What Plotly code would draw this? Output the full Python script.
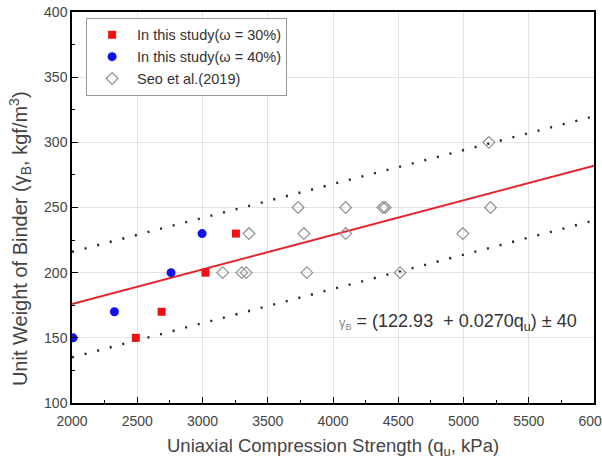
import plotly.graph_objects as go

# Data
red_x = [2489, 2687, 3023, 3256]
red_y = [150, 170, 200, 230]
blue_x = [2008, 2325, 2759, 2997]
blue_y = [150, 170, 200, 230]
seo_x = [5194, 3732, 4097, 4382, 4400, 5207, 3356, 3777, 4097, 4995, 3155, 3301, 3335, 3800, 4514]
seo_y = [300, 250, 250, 250, 250, 250, 230, 230, 230, 230, 200, 200, 200, 200, 200]
fit_x = [2000, 6000]
fit_y = [176, 282]
upper_y = [216, 320]
lower_y = [135, 240]

x_ticks = [2000, 2500, 3000, 3500, 4000, 4500, 5000, 5500, 6000]
y_ticks = [100, 150, 200, 250, 300, 350, 400]

FONT = "Liberation Sans, Arial"

fig = go.Figure()
fig.add_trace(go.Scatter(x=fit_x, y=upper_y, mode="lines", showlegend=False,
                         line=dict(color="#222", width=2.4, dash="2px,11px")))
fig.add_trace(go.Scatter(x=fit_x, y=lower_y, mode="lines", showlegend=False,
                         line=dict(color="#222", width=2.4, dash="2px,11px")))
fig.add_trace(go.Scatter(x=fit_x, y=fit_y, mode="lines", showlegend=False,
                         line=dict(color="#e8242a", width=2)))
fig.add_trace(go.Scatter(x=red_x, y=red_y, mode="markers", name="In this study(ω = 30%)",
                         marker=dict(symbol="square", size=8, color="#ee1111")))
fig.add_trace(go.Scatter(x=blue_x, y=blue_y, mode="markers", name="In this study(ω = 40%)",
                         marker=dict(symbol="circle", size=9, color="#1111ee")))
fig.add_trace(go.Scatter(x=seo_x, y=seo_y, mode="markers", name="Seo et al.(2019)",
                         marker=dict(symbol="diamond-open", size=9, color="#909090",
                                     line=dict(width=1.2, color="#909090"))))

axis_common = dict(showline=True, linecolor="black", linewidth=1.5, mirror=True,
                   ticks="inside", ticklen=6, tickcolor="black",
                   showgrid=True, gridcolor="#e2e2e2", gridwidth=1, zeroline=False,
                   ticklabeloverflow="allow", automargin=False,
                   tickfont=dict(family=FONT, size=14, color="#444"),
                   minor=dict(ticks="inside", ticklen=3, tickcolor="black", showgrid=False))

fig.update_xaxes(range=[2000, 6000], tickvals=x_ticks, ticklabelstandoff=4, **axis_common)
fig.update_yaxes(range=[100, 400], tickvals=y_ticks, **axis_common)
fig.update_xaxes(minor=dict(dtick=250))
fig.update_yaxes(minor=dict(dtick=25))

# axis titles
fig.add_annotation(x=0.5, y=-0.112, xref="paper", yref="paper", xanchor="center", yanchor="middle",
                   showarrow=False, text="Uniaxial Compression Strength (q<sub>u</sub>, kPa)",
                   font=dict(family=FONT, size=18.5, color="#444"))
fig.add_annotation(x=-0.099, y=0.42, xref="paper", yref="paper", xanchor="center", yanchor="middle",
                   showarrow=False, textangle=-90,
                   text="Unit Weight of Binder (γ<sub>B</sub>, kgf/m<sup>3</sup>)",
                   font=dict(family=FONT, size=20, color="#444"))

fig.add_annotation(x=0.507, y=0.207, xref="paper", yref="paper", xanchor="left", yanchor="middle",
                   showarrow=False,
                   text="<span style='font-size:13px;color:#888'>γ<sub>B</sub></span> = (122.93  + 0.0270q<sub>u</sub>) ± 40",
                   font=dict(family=FONT, size=18, color="#333"))

fig.update_layout(
    width=602, height=459,
    margin=dict(l=72, r=8, t=12, b=56),
    paper_bgcolor="white", plot_bgcolor="white",
    legend=dict(x=0.027, y=0.985, xanchor="left", yanchor="top",
                bgcolor="white", bordercolor="#999", borderwidth=1,
                font=dict(family=FONT, size=14.5, color="#333"),
                itemwidth=40, tracegroupgap=0),
)

fig.write_html("out.html")
